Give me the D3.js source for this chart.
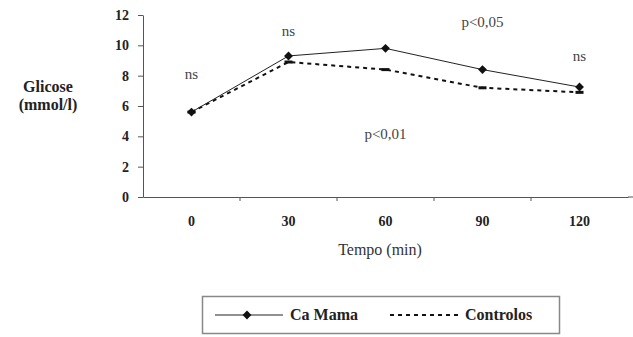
<!DOCTYPE html>
<html>
<head>
<meta charset="utf-8">
<script src="https://cdn.jsdelivr.net/npm/d3@7"></script>
<style>
  body { margin: 0; background: #fff; }
  svg text { font-family: "Liberation Serif", "Times New Roman", serif !important; }
</style>
</head>
<body>
<svg id="chart" width="633" height="337"></svg>
<script>
const times = ['0', '30', '60', '90', '120'];
const caMama = [5.6, 9.3, 9.8, 8.4, 7.25];
const controlos = [5.6, 8.9, 8.4, 7.2, 6.9];
const yTicks = [0, 2, 4, 6, 8, 10, 12];
const notes = [
  { t: '0', v: 7.8, text: 'ns' },
  { t: '30', v: 10.6, text: 'ns' },
  { t: '60', v: 3.8, text: 'p<0,01' },
  { t: '90', v: 11.2, text: 'p<0,05' },
  { t: '120', v: 9.0, text: 'ns' }
];

const svg = d3.select('#chart');

const x = d3.scaleBand().domain(times).range([143, 628]);
const y = d3.scaleLinear().domain([0, 12]).range([197, 15]);
const cx = d => x(d) + x.bandwidth() / 2;

// y axis
const yAxis = svg.append('g')
  .attr('transform', 'translate(143,0)')
  .call(d3.axisLeft(y).tickValues(yTicks).tickSize(5).tickSizeOuter(0).tickPadding(9));
yAxis.selectAll('path, line').attr('stroke', '#555');
yAxis.selectAll('text').attr('font-size', 14)
  .attr('font-weight', 'bold').attr('fill', '#222');

// x axis
const xAxis = svg.append('g')
  .attr('transform', 'translate(0,197)')
  .call(d3.axisBottom(x).tickSize(0).tickPadding(19));
xAxis.select('.domain').attr('stroke', '#555');
xAxis.selectAll('text').attr('font-size', 14)
  .attr('font-weight', 'bold').attr('fill', '#222');
svg.append('line').attr('x1', 628).attr('x2', 633).attr('y1', 197).attr('y2', 197).attr('stroke', '#555');
// tick marks at band edges
svg.append('g').selectAll('line')
  .data(times.slice(1))
  .join('line')
  .attr('x1', d => x(d)).attr('x2', d => x(d))
  .attr('y1', 197).attr('y2', 201)
  .attr('stroke', '#555');

// axis titles
svg.append('text').attr('x', 48).attr('y', 92).attr('text-anchor', 'middle')
  .attr('font-size', 16).attr('font-weight', 'bold').attr('fill', '#222').text('Glicose');
svg.append('text').attr('x', 48).attr('y', 110).attr('text-anchor', 'middle')
  .attr('font-size', 16).attr('font-weight', 'bold').attr('fill', '#222').text('(mmol/l)');
svg.append('text').attr('x', 380).attr('y', 255).attr('text-anchor', 'middle')
  .attr('font-size', 16).attr('fill', '#333').text('Tempo (min)');

// lines
const line = d3.line().x((d, i) => cx(times[i])).y(d => y(d));
svg.append('path').datum(controlos).attr('d', line)
  .attr('fill', 'none').attr('stroke', '#111').attr('stroke-width', 2).attr('stroke-dasharray', '4,4');
svg.append('path').datum(caMama).attr('d', line)
  .attr('fill', 'none').attr('stroke', '#222').attr('stroke-width', 1);

// markers
svg.append('g').selectAll('rect')
  .data(controlos)
  .join('rect')
  .attr('x', (d, i) => cx(times[i]) - 4).attr('y', d => y(d) - 1.5)
  .attr('width', 8).attr('height', 3).attr('fill', '#111');
const diamond = d3.symbol().type(d3.symbolDiamond2).size(50);
svg.append('g').selectAll('path')
  .data(caMama)
  .join('path')
  .attr('d', diamond)
  .attr('transform', (d, i) => `translate(${cx(times[i])},${y(d)})`)
  .attr('fill', '#111');

// significance notes
svg.append('g').selectAll('text')
  .data(notes)
  .join('text')
  .attr('x', d => cx(d.t))
  .attr('y', d => y(d.v))
  .attr('text-anchor', 'middle')
  .attr('font-size', 15).attr('fill', '#444')
  .text(d => d.text);

// legend
const lg = svg.append('g');
lg.append('rect').attr('x', 202.5).attr('y', 296.5).attr('width', 357).attr('height', 37)
  .attr('fill', '#fff').attr('stroke', '#888').attr('stroke-width', 1.5);
lg.append('line').attr('x1', 215).attr('x2', 283).attr('y1', 315).attr('y2', 315)
  .attr('stroke', '#222').attr('stroke-width', 1);
lg.append('path').attr('d', diamond).attr('transform', 'translate(247,315)').attr('fill', '#111');
lg.append('text').attr('x', 290).attr('y', 320).attr('font-size', 16).attr('font-weight', 'bold')
  .attr('fill', '#222').text('Ca Mama');
lg.append('line').attr('x1', 390).attr('x2', 460).attr('y1', 315).attr('y2', 315)
  .attr('stroke', '#111').attr('stroke-width', 2).attr('stroke-dasharray', '4,4');
lg.append('text').attr('x', 465).attr('y', 320).attr('font-size', 16).attr('font-weight', 'bold')
  .attr('fill', '#222').text('Controlos');
</script>
</body>
</html>
